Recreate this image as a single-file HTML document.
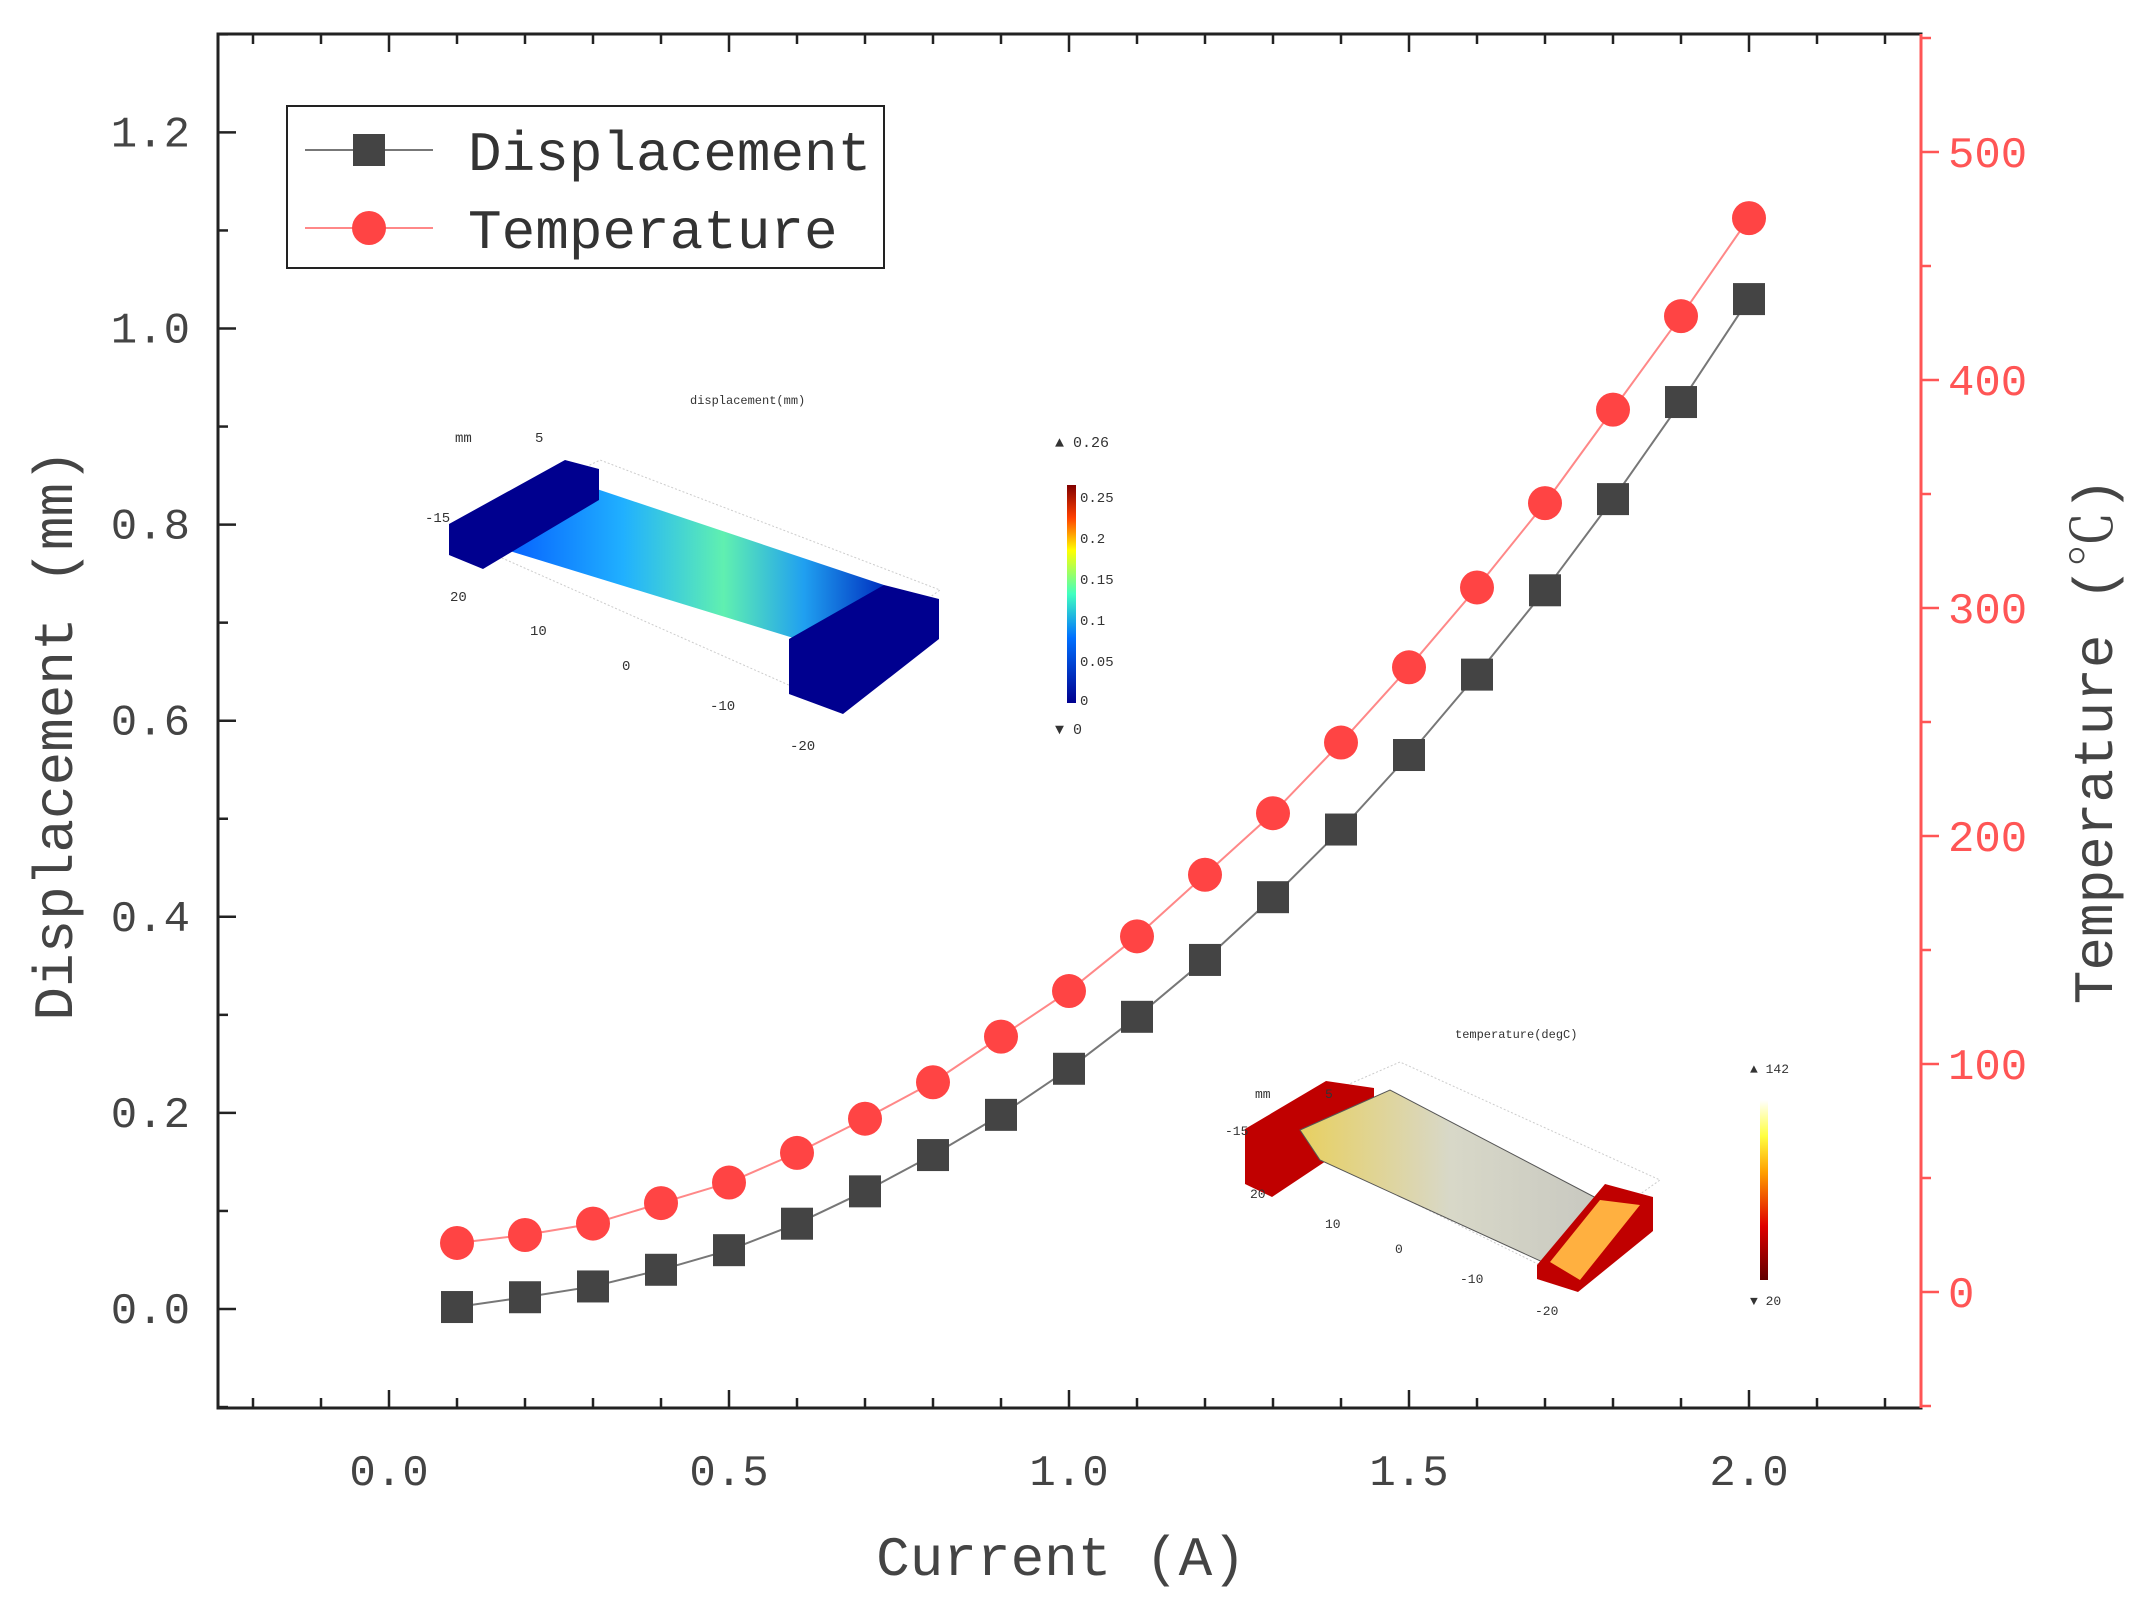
<!DOCTYPE html>
<html><head><meta charset="utf-8"><style>
html,body{margin:0;padding:0;background:#fff;}
svg text{font-family:"Liberation Mono","Noto Serif CJK SC",monospace;}
</style></head><body>
<svg id="chart" width="2133" height="1615" viewBox="0 0 2133 1615" xmlns="http://www.w3.org/2000/svg">
<defs>
<linearGradient id="jet" x1="0" y1="1" x2="0" y2="0">
<stop offset="0" stop-color="#00008f"/><stop offset="0.3" stop-color="#0070ff"/><stop offset="0.5" stop-color="#40ffc0"/><stop offset="0.7" stop-color="#ffff00"/><stop offset="0.85" stop-color="#ff4000"/><stop offset="1" stop-color="#800000"/></linearGradient>
<linearGradient id="heat" x1="0" y1="1" x2="0" y2="0">
<stop offset="0" stop-color="#600000"/><stop offset="0.3" stop-color="#e00000"/><stop offset="0.6" stop-color="#ffa000"/><stop offset="0.8" stop-color="#ffff40"/><stop offset="1" stop-color="#ffffff"/></linearGradient>
<linearGradient id="beam" x1="0" y1="0" x2="1" y2="0">
<stop offset="0" stop-color="#0050ff"/><stop offset="0.35" stop-color="#20b0ff"/><stop offset="0.6" stop-color="#60f0b0"/><stop offset="0.8" stop-color="#20a0f0"/><stop offset="1" stop-color="#0030c0"/></linearGradient>
<linearGradient id="tbeam" x1="0" y1="0" x2="1" y2="0">
<stop offset="0" stop-color="#e8d060"/><stop offset="0.5" stop-color="#d8d8c8"/><stop offset="1" stop-color="#c8c8c0"/></linearGradient>
</defs>
<g id="axes"></g>
<g id="insets">
 <g>
  <text x="690" y="404" font-size="12" fill="#333">displacement(mm)</text>
  <polygon points="450,535 600,460 940,590 800,690" fill="none" stroke="#ccc" stroke-width="1" stroke-dasharray="2,2"/>
  <polygon points="483,510 570,480 884,585 870,612 800,640 490,545" fill="url(#beam)"/>
  <polygon points="449,524 565,460 599,469 599,500 483,569 449,555" fill="#00008f"/>
  <polygon points="789,639 884,585 939,599 939,639 843,714 789,694" fill="#00008f"/>
  <text x="455" y="442" font-size="14" fill="#333">mm</text><text x="535" y="442" font-size="14" fill="#333">5</text>
  <text x="425" y="522" font-size="14" fill="#333">-15</text><text x="450" y="601" font-size="14" fill="#333">20</text>
  <text x="530" y="635" font-size="14" fill="#333">10</text><text x="622" y="670" font-size="14" fill="#333">0</text>
  <text x="710" y="710" font-size="14" fill="#333">-10</text><text x="790" y="750" font-size="14" fill="#333">-20</text>
  <rect x="1067" y="485" width="9" height="218" fill="url(#jet)"/>
  <text x="1055" y="447" font-size="15" fill="#333">▲ 0.26</text>
  <text x="1080" y="502" font-size="14" fill="#333">0.25</text><text x="1080" y="543" font-size="14" fill="#333">0.2</text>
  <text x="1080" y="584" font-size="14" fill="#333">0.15</text><text x="1080" y="625" font-size="14" fill="#333">0.1</text>
  <text x="1080" y="666" font-size="14" fill="#333">0.05</text><text x="1080" y="705" font-size="14" fill="#333">0</text>
  <text x="1055" y="734" font-size="15" fill="#333">▼ 0</text>
 </g>
 <g>
  <text x="1455" y="1038" font-size="12" fill="#333">temperature(degC)</text>
  <polygon points="1255,1125 1400,1062 1660,1180 1540,1265" fill="none" stroke="#ccc" stroke-width="1" stroke-dasharray="2,2"/>
  <polygon points="1245,1129 1326,1081 1374,1088 1374,1129 1272,1197 1245,1184" fill="#c00000"/>
  <polygon points="1300,1130 1390,1090 1600,1200 1560,1270 1320,1160" fill="url(#tbeam)" stroke="#555" stroke-width="1"/>
  <polygon points="1537,1265 1605,1184 1653,1197 1653,1231 1578,1292 1537,1279" fill="#c00000"/>
  <polygon points="1550,1262 1600,1200 1640,1205 1580,1280" fill="#ffb040"/>
  <text x="1255" y="1098" font-size="13" fill="#333">mm</text><text x="1325" y="1098" font-size="13" fill="#333">5</text>
  <text x="1225" y="1135" font-size="13" fill="#333">-15</text><text x="1250" y="1198" font-size="13" fill="#333">20</text>
  <text x="1325" y="1228" font-size="13" fill="#333">10</text><text x="1395" y="1253" font-size="13" fill="#333">0</text>
  <text x="1460" y="1283" font-size="13" fill="#333">-10</text><text x="1535" y="1315" font-size="13" fill="#333">-20</text>
  <rect x="1760" y="1100" width="8" height="180" fill="url(#heat)"/>
  <text x="1750" y="1073" font-size="13" fill="#333">▲ 142</text>
  <text x="1750" y="1305" font-size="13" fill="#333">▼ 20</text>
 </g>
</g>
<g id="series"></g>
<g>
 <rect x="287" y="106" width="597" height="162" fill="#fff" stroke="#222" stroke-width="2"/>
 <line x1="305" y1="150" x2="433" y2="150" stroke="#777" stroke-width="2"/>
 <rect x="353" y="134" width="32" height="32" fill="#444"/>
 <text x="468" y="170" font-size="56" fill="#333">Displacement</text>
 <line x1="305" y1="228" x2="433" y2="228" stroke="#f88" stroke-width="2"/>
 <circle cx="369" cy="228" r="17" fill="#f44"/>
 <text x="468" y="248" font-size="56" fill="#333">Temperature</text>
</g>
</svg>
<script>
const currents = [0.1,0.2,0.3,0.4,0.5,0.6,0.7,0.8,0.9,1.0,1.1,1.2,1.3,1.4,1.5,1.6,1.7,1.8,1.9,2.0];
const displacement = [0.002,0.012,0.023,0.04,0.06,0.087,0.12,0.157,0.198,0.245,0.298,0.356,0.42,0.489,0.565,0.647,0.733,0.826,0.925,1.03];
const temperature = [21.5,25,30,39,48,61,76,92,112,132,156,183,210,241,274,309,346,387,428,471];
const xTicks = [0.0,0.5,1.0,1.5,2.0];
const yLeftTicks = [0.0,0.2,0.4,0.6,0.8,1.0,1.2];
const yRightTicks = [0,100,200,300,400,500];

const NS="http://www.w3.org/2000/svg";
const L=218,R=1921,T=34,B=1408;
function X(v){return 389+(v-0)*680;}
function YL(v){return 1309-v*980.5;}
function YR(v){return 1292-v*2.28;}
function mk(tag,attrs,parent){const e=document.createElementNS(NS,tag);for(const k in attrs)e.setAttribute(k,attrs[k]);parent.appendChild(e);return e;}
const ax=document.getElementById('axes'), sr=document.getElementById('series');

let f=mk('rect',{x:L,y:T,width:R-L,height:B-T,fill:'none',stroke:'#222','stroke-width':3},ax);


let ra=mk('line',{x1:R,y1:T,x2:R,y2:B,stroke:'#f55','stroke-width':3},ax);



for(let v=-0.2;v<=2.21;v+=0.1){
 const major=Math.abs(Math.round(v*10)%5)===0;const len=major?18:10;const x=X(v);
 mk('line',{x1:x,y1:B,x2:x,y2:B-len,stroke:'#222','stroke-width':2.5},ax);
 mk('line',{x1:x,y1:T,x2:x,y2:T+len,stroke:'#222','stroke-width':2.5},ax);
}
xTicks.forEach(v=>{const t=mk('text',{x:X(v),y:1485,'font-size':44,'text-anchor':'middle',fill:'#444'},ax);t.textContent=v.toFixed(1);
 
 });
for(let v=-0.1;v<=1.31;v+=0.1){
 const major=Math.round(v*10)%2===0;const len=major?18:10;const y=YL(v);
 mk('line',{x1:L,y1:y,x2:L+len,y2:y,stroke:'#222','stroke-width':2.5},ax);
}
yLeftTicks.forEach(v=>{const t=mk('text',{x:190,y:YL(v)+14,'font-size':44,'text-anchor':'end',fill:'#444'},ax);t.textContent=v.toFixed(1);
 
 });
for(let v=-50;v<=600;v+=50){const y=YR(v);if(y<T||y>B)continue;const len=(v%100===0)?18:10;
 mk('line',{x1:R,y1:y,x2:R+len,y2:y,stroke:'#f55','stroke-width':2.5},ax);}
yRightTicks.forEach(v=>{const t=mk('text',{x:1948,y:YR(v)+15,'font-size':44,fill:'#f55'},ax);t.textContent=v;
 
 });
let xt=mk('text',{x:1061,y:1575,'font-size':56,'text-anchor':'middle',fill:'#444'},ax);xt.textContent='Current (A)';


let yt=mk('text',{x:0,y:0,'font-size':56,'text-anchor':'middle',fill:'#444',transform:'translate(72,735) rotate(-90)'},ax);yt.textContent='Displacement (mm)';


let yr=mk('text',{x:0,y:0,'font-size':56,'text-anchor':'middle',fill:'#444',transform:'translate(2112,741) rotate(-90)'},ax);yr.textContent='Temperature (℃)';



let pd=currents.map((c,i)=>X(c)+','+YL(displacement[i])).join(' ');
let dl=mk('polyline',{points:pd,fill:'none',stroke:'#777','stroke-width':2},sr);


let pt=currents.map((c,i)=>X(c)+','+YR(temperature[i])).join(' ');
let tl=mk('polyline',{points:pt,fill:'none',stroke:'#f88','stroke-width':2},sr);


currents.forEach((c,i)=>{
 const r=mk('rect',{x:X(c)-16,y:YL(displacement[i])-16,width:32,height:32,fill:'#444'},sr);
 
 
 const ci=mk('circle',{cx:X(c),cy:YR(temperature[i]),r:17,fill:'#f44'},sr);
 
 
});
</script>
</body></html>
